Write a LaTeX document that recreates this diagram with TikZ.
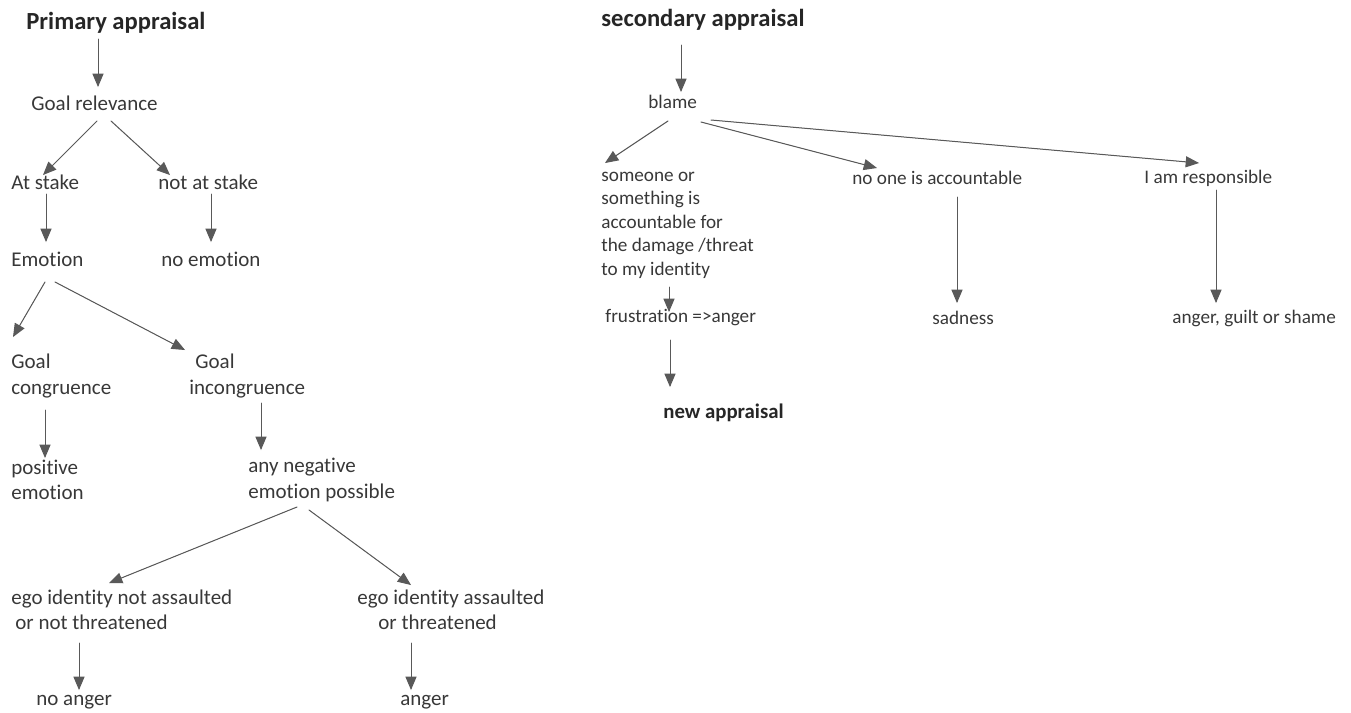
\documentclass[tikz,border=0pt]{standalone}
\usepackage{fontspec}
\setmainfont{Carlito}[Ligatures=NoCommon]
\usetikzlibrary{arrows}

\tikzset{
  lbox/.style={anchor=west,inner sep=0pt,align=left,text=black!78,font=\fontsize{10.5}{12.6}\selectfont},
  rbox/.style={anchor=west,inner sep=0pt,align=left,text=black!78,font=\fontsize{9.6}{11.75}\selectfont},
  head/.style={anchor=west,inner sep=0pt,text=black!85,font=\fontsize{12.3}{14}\selectfont\bfseries},
  arr/.style={->,line width=0.5pt,draw=black!65,fill=black!90}
}

\begin{document}
\begin{tikzpicture}[line cap=round,line join=round,>=triangle 45,x=0.5pt,y=-0.5pt]
		\useasboundingbox (0,0) rectangle (1351,713);
		% primary appraisal
		\node[head] (pa) at (26,23) {Primary appraisal};
		\node[lbox] (rel) at (31,103) {Goal relevance};
		\node[lbox] (stake) at (11,182) {At stake};
		\node[lbox] (notstake) at (158,182) {not at stake};
		\node[lbox] (emo) at (11,259) {Emotion};
		\node[lbox] (noemo) at (161,259) {no emotion};
		\node[lbox] (cong) at (11,376) {Goal\\congruence};
		\node[lbox] (incong) at (189,376) {\hspace{3pt}Goal\\incongruence};
		\node[lbox] (pos) at (11,480) {positive\\emotion};
		\node[lbox] (neg) at (248,480) {any negative\\emotion possible};
		\node[lbox] (egonot) at (11,610) {ego identity not assaulted\\\hspace{2pt}or not threatened};
		\node[lbox] (egoyes) at (357,610) {ego identity assaulted\\\hspace{10.5pt}or threatened};
		\node[lbox] (noanger) at (36,702) {no anger};
		\node[lbox] (anger) at (400,702) {anger};
		\draw[arr] ([shift={(72,16)}]pa.west) -- ([shift={(67,-16)}]rel.west);
		\draw[arr] ([shift={(66,18)}]rel.west) -- ([shift={(32,-7)}]stake.west);
		\draw[arr] ([shift={(80,18)}]rel.west) -- ([shift={(12,-7)}]notstake.west);
		\draw[arr] ([shift={(35,12)}]stake.west) -- ([shift={(35,-17)}]emo.west);
		\draw[arr] ([shift={(53,12)}]notstake.west) -- ([shift={(50,-17)}]noemo.west);
		\draw[arr] ([shift={(34,23)}]emo.west) -- ([shift={(2,-39)}]cong.west);
		\draw[arr] ([shift={(44,23)}]emo.west) -- ([shift={(-4,-26)}]incong.west);
		\draw[arr] ([shift={(34,34)}]cong.west) -- ([shift={(34,-22)}]pos.west);
		\draw[arr] ([shift={(72,27)}]incong.west) -- ([shift={(13,-30)}]neg.west);
		\draw[arr] ([shift={(49,27)}]neg.west) -- ([shift={(98,-27)}]egonot.west);
		\draw[arr] ([shift={(61,30)}]neg.west) -- ([shift={(54,-25)}]egoyes.west);
		\draw[arr] ([shift={(68,33)}]egonot.west) -- ([shift={(43,-12)}]noanger.west);
		\draw[arr] ([shift={(54,33)}]egoyes.west) -- ([shift={(11,-12)}]anger.west);
		% secondary appraisal
		\node[head] (sa) at (601,20) {secondary appraisal};
		\node[rbox] (blame) at (648,102) {blame};
		\node[rbox] (someone) at (601,225) {someone or\\something is\\accountable for\\the damage /threat\\to my identity};
		\node[rbox] (noone) at (852,178) {no one is accountable};
		\node[rbox] (iam) at (1144,178) {I am responsible};
		\node[rbox] (frus) at (605,318) {frustration =>anger};
		\node[rbox] (sad) at (932,318) {sadness};
		\node[rbox] (ags) at (1172,318) {anger, guilt or shame};
		\node[head,font=\fontsize{10.4}{12}\selectfont\bfseries] (newa) at (663,413) {new appraisal};
		\draw[arr] ([shift={(80,25)}]sa.west) -- ([shift={(33,-10)}]blame.west);
		\draw[arr] ([shift={(20,19)}]blame.west) -- ([shift={(4,-62)}]someone.west);
		\draw[arr] ([shift={(53,20)}]blame.west) -- ([shift={(25,-10)}]noone.west);
		\draw[arr] ([shift={(63,18)}]blame.west) -- ([shift={(55,-15)}]iam.west);
		\draw[arr] ([shift={(68,62)}]someone.west) -- ([shift={(64,-6)}]frus.west);
		\draw[arr] ([shift={(105,19)}]noone.west) -- ([shift={(25,-15)}]sad.west);
		\draw[arr] ([shift={(72,12)}]iam.west) -- ([shift={(44,-15)}]ags.west);
		\draw[arr] ([shift={(65,22)}]frus.west) -- ([shift={(7,-26)}]newa.west);
	\end{tikzpicture}
\end{document}
